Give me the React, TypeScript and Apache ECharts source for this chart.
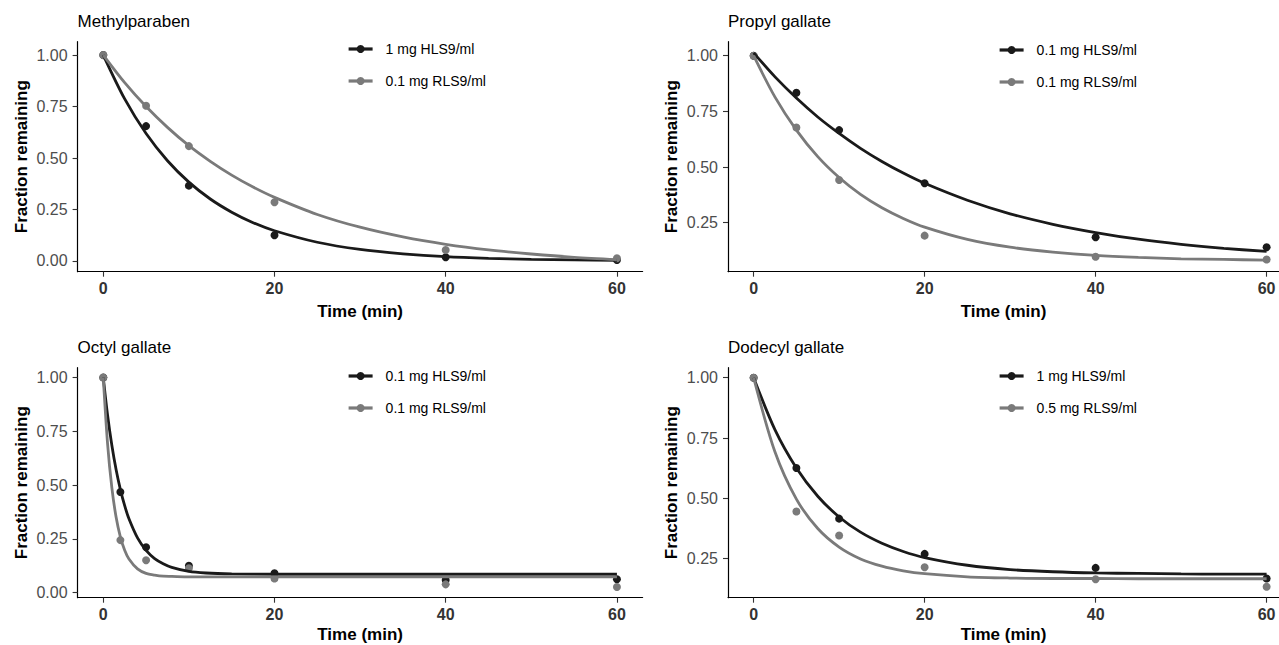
import React, { useEffect, useRef } from "react";
import * as echarts from "echarts";

// ---------- data ----------
const panelTitles = ["Methylparaben", "Propyl gallate", "Octyl gallate", "Dodecyl gallate"];
const xTicks = [0, 20, 40, 60];

// Methylparaben
const mpLegend = ["1 mg HLS9/ml", "0.1 mg RLS9/ml"];
const mpTime = [0, 5, 10, 20, 40, 60];
const mpHLS = [1.0, 0.655, 0.366, 0.125, 0.018, 0.005];
const mpRLS = [1.0, 0.754, 0.558, 0.285, 0.053, 0.013];
const mpFitTime = [0, 2.5, 5, 7.5, 10, 12.5, 15, 17.5, 20, 25, 30, 35, 40, 45, 50, 55, 60];
const mpFitHLS = [1.0, 0.787, 0.619, 0.487, 0.383, 0.301, 0.237, 0.186, 0.147, 0.091, 0.056, 0.035, 0.021, 0.013, 0.008, 0.005, 0.003];
const mpFitRLS = [1.0, 0.866, 0.75, 0.649, 0.56, 0.484, 0.417, 0.359, 0.309, 0.226, 0.164, 0.117, 0.081, 0.054, 0.034, 0.018, 0.007];
const mpYTicks = [0, 0.25, 0.5, 0.75, 1.0];

// Propyl gallate
const pgLegend = ["0.1 mg HLS9/ml", "0.1 mg RLS9/ml"];
const pgTime = [0, 5, 10, 20, 40, 60];
const pgHLS = [1.0, 0.834, 0.666, 0.427, 0.185, 0.14];
const pgRLS = [1.0, 0.678, 0.442, 0.192, 0.097, 0.085];
const pgFitTime = [0, 2.5, 5, 7.5, 10, 12.5, 15, 17.5, 20, 25, 30, 35, 40, 45, 50, 55, 60];
const pgFitHLS = [1.013, 0.905, 0.81, 0.725, 0.651, 0.584, 0.525, 0.473, 0.427, 0.351, 0.29, 0.243, 0.206, 0.176, 0.153, 0.135, 0.121];
const pgFitRLS = [1.0, 0.814, 0.666, 0.547, 0.453, 0.377, 0.317, 0.269, 0.23, 0.175, 0.14, 0.118, 0.103, 0.094, 0.088, 0.085, 0.082];
const pgYTicks = [0.25, 0.5, 0.75, 1.0];

// Octyl gallate
const ogLegend = ["0.1 mg HLS9/ml", "0.1 mg RLS9/ml"];
const ogTime = [0, 2, 5, 10, 20, 40, 60];
const ogHLS = [1.0, 0.468, 0.211, 0.125, 0.09, 0.058, 0.062];
const ogRLS = [1.0, 0.244, 0.15, 0.113, 0.065, 0.038, 0.026];
const ogFitTime = [0, 0.5, 1, 1.5, 2, 2.5, 3, 4, 5, 6, 7, 8, 10, 12, 15, 20, 30, 40, 50, 60];
const ogFitHLS = [1.0, 0.826, 0.685, 0.571, 0.479, 0.404, 0.343, 0.254, 0.196, 0.158, 0.134, 0.117, 0.098, 0.091, 0.087, 0.085, 0.085, 0.085, 0.085, 0.085];
const ogFitRLS = [1.0, 0.693, 0.488, 0.35, 0.258, 0.197, 0.156, 0.11, 0.089, 0.081, 0.076, 0.075, 0.073, 0.073, 0.073, 0.073, 0.073, 0.073, 0.073, 0.073];
const ogYTicks = [0, 0.25, 0.5, 0.75, 1.0];

// Dodecyl gallate
const dgLegend = ["1 mg HLS9/ml", "0.5 mg RLS9/ml"];
const dgTime = [0, 5, 10, 20, 40, 60];
const dgHLS = [1.0, 0.626, 0.416, 0.27, 0.212, 0.168];
const dgRLS = [1.0, 0.446, 0.346, 0.215, 0.165, 0.134];
const dgFitTime = [0, 2.5, 5, 7.5, 10, 12.5, 15, 17.5, 20, 25, 30, 35, 40, 45, 50, 55, 60];
const dgFitHLS = [1.0, 0.784, 0.626, 0.509, 0.423, 0.36, 0.314, 0.28, 0.255, 0.223, 0.205, 0.196, 0.191, 0.189, 0.187, 0.186, 0.186];
const dgFitRLS = [1.0, 0.692, 0.497, 0.375, 0.298, 0.249, 0.219, 0.2, 0.188, 0.175, 0.17, 0.168, 0.168, 0.167, 0.167, 0.167, 0.167];
const dgYTicks = [0.25, 0.5, 0.75, 1.0];

// ---------- styling ----------
const DARK = "#1a1a1a";
const GRAY = "#7a7a7a";
const FONT = "Liberation Sans, Arial, sans-serif";

const pair = (xs: number[], ys: number[]) => xs.map((x, i) => [x, ys[i]]);

interface Panel {
  title: string;
  legend: string[];
  time: number[];
  hls: number[];
  rls: number[];
  fitTime: number[];
  fitHLS: number[];
  fitRLS: number[];
  yTicks: number[];
  box: { left: number; top: number; width: number; height: number };
  xMax: number;
  yMin: number;
  yMax: number;
  legendPos: { left: number; top: number };
  xNameGap: number;
}

const panels: Panel[] = [
  {
    title: panelTitles[0], legend: mpLegend, time: mpTime, hls: mpHLS, rls: mpRLS,
    fitTime: mpFitTime, fitHLS: mpFitHLS, fitRLS: mpFitRLS, yTicks: mpYTicks,
    box: { left: 77.6, top: 41.7, width: 565, height: 230 }, xMax: 63, yMin: -0.052, yMax: 1.065,
    legendPos: { left: 347, top: 42 }, xNameGap: 31,
  },
  {
    title: panelTitles[1], legend: pgLegend, time: pgTime, hls: pgHLS, rls: pgRLS,
    fitTime: pgFitTime, fitHLS: pgFitHLS, fitRLS: pgFitRLS, yTicks: pgYTicks,
    box: { left: 728, top: 41.7, width: 551, height: 230 }, xMax: 61.45, yMin: 0.03, yMax: 1.063,
    legendPos: { left: 998, top: 43 }, xNameGap: 31,
  },
  {
    title: panelTitles[2], legend: ogLegend, time: ogTime, hls: ogHLS, rls: ogRLS,
    fitTime: ogFitTime, fitHLS: ogFitHLS, fitRLS: ogFitRLS, yTicks: ogYTicks,
    box: { left: 77.6, top: 367.7, width: 565, height: 230 }, xMax: 63, yMin: -0.024, yMax: 1.046,
    legendPos: { left: 347, top: 369 }, xNameGap: 28,
  },
  {
    title: panelTitles[3], legend: dgLegend, time: dgTime, hls: dgHLS, rls: dgRLS,
    fitTime: dgFitTime, fitHLS: dgFitHLS, fitRLS: dgFitRLS, yTicks: dgYTicks,
    box: { left: 728, top: 367.7, width: 551, height: 230 }, xMax: 61.45, yMin: 0.0885, yMax: 1.0415,
    legendPos: { left: 998, top: 369 }, xNameGap: 28,
  },
];

function buildOption() {
  const grid: any[] = [];
  const xAxis: any[] = [];
  const yAxis: any[] = [];
  const title: any[] = [];
  const legend: any[] = [];
  const series: any[] = [];

  panels.forEach((p, i) => {
    grid.push({ ...p.box, containLabel: false, outerBoundsMode: "none" });
    title.push({
      text: p.title,
      left: p.box.left,
      top: p.box.top - 29,
      padding: 0,
      textStyle: { fontFamily: FONT, fontSize: 17, fontWeight: "normal", color: "#000" },
    });
    legend.push({
      orient: "vertical",
      left: p.legendPos.left,
      top: p.legendPos.top,
      itemWidth: 24,
      itemHeight: 10,
      itemGap: 18,
      padding: 0,
      data: p.legend,
      selectedMode: false,
      lineStyle: { width: 3.2 },
      textStyle: { fontFamily: FONT, fontSize: 14, color: "#000", padding: [0, 0, 0, 8] },
    });
    xAxis.push({
      gridIndex: i,
      type: "value",
      min: -3,
      max: p.xMax,
      name: "Time (min)",
      nameLocation: "middle",
      nameGap: p.xNameGap,
      nameTextStyle: { fontFamily: FONT, fontSize: 17, fontWeight: "bold", color: "#000" },
      axisLine: { show: true, onZero: false, lineStyle: { color: "#000", width: 1.2 } },
      axisTick: { show: true, length: 5, customValues: xTicks, lineStyle: { color: "#333", width: 1.1 } },
      axisLabel: {
        customValues: xTicks,
        margin: 9,
        fontFamily: FONT,
        fontSize: 16,
        fontWeight: "bold",
        color: "#333",
      },
      splitLine: { show: false },
    });
    yAxis.push({
      gridIndex: i,
      type: "value",
      min: p.yMin,
      max: p.yMax,
      name: "Fraction remaining",
      nameLocation: "middle",
      nameGap: 48,
      nameTextStyle: { fontFamily: FONT, fontSize: 17, fontWeight: "bold", color: "#000" },
      axisLine: { show: true, onZero: false, lineStyle: { color: "#000", width: 1.2 } },
      axisTick: { show: true, length: 5, customValues: p.yTicks, lineStyle: { color: "#333", width: 1.1 } },
      axisLabel: {
        customValues: p.yTicks,
        margin: 10,
        fontFamily: FONT,
        fontSize: 16,
        color: "#4d4d4d",
        formatter: (v: number) => v.toFixed(2),
      },
      splitLine: { show: false },
    });

    const lineCommon = {
      type: "line",
      xAxisIndex: i,
      yAxisIndex: i,
      smooth: 0.3,
      symbol: "circle",
      symbolSize: 7,
      showSymbol: false,
      silent: true,
    };
    const ptCommon = {
      type: "scatter",
      xAxisIndex: i,
      yAxisIndex: i,
      symbol: "circle",
      symbolSize: 8,
      silent: true,
    };
    series.push({
      ...lineCommon,
      name: p.legend[0],
      data: pair(p.fitTime, p.fitHLS),
      lineStyle: { color: DARK, width: 2.8 },
      itemStyle: { color: DARK, opacity: 1 },
    });
    series.push({
      ...ptCommon,
      name: p.legend[0],
      data: pair(p.time, p.hls),
      itemStyle: { color: DARK, opacity: 1 },
    });
    series.push({
      ...lineCommon,
      name: p.legend[1],
      data: pair(p.fitTime, p.fitRLS),
      lineStyle: { color: GRAY, width: 2.8 },
      itemStyle: { color: GRAY, opacity: 1 },
    });
    series.push({
      ...ptCommon,
      name: p.legend[1],
      data: pair(p.time, p.rls),
      itemStyle: { color: GRAY, opacity: 1 },
    });
  });

  return {
    animation: false,
    backgroundColor: "#fff",
    textStyle: { fontFamily: FONT },
    title,
    legend,
    grid,
    xAxis,
    yAxis,
    series,
  };
}

export default function App() {
  const ref = useRef<HTMLDivElement>(null);
  useEffect(() => {
    document.body.style.margin = "0";
    if (!ref.current) return;
    const chart = echarts.init(ref.current, undefined, { renderer: "svg" });
    chart.setOption(buildOption() as any);
    return () => chart.dispose();
  }, []);
  return <div ref={ref} style={{ width: 1279, height: 645, overflow: "hidden" }} />;
}
